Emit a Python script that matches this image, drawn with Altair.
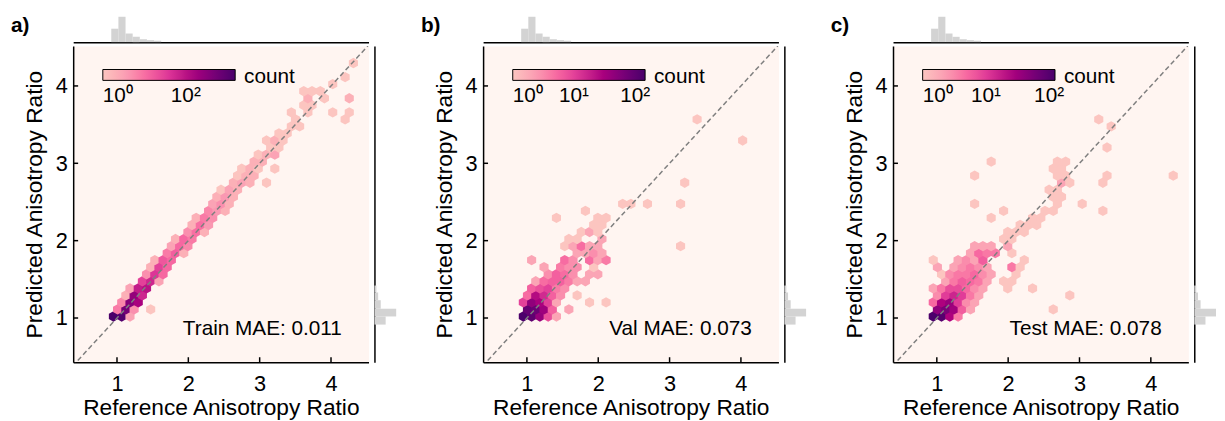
import altair as alt
import pandas as pd

FONT = "Liberation Sans"
HEX = "M0,-1L0.88,-0.5L0.88,0.5L0,1L-0.88,0.5L-0.88,-0.5Z"
CMAP = ["#fcc5c0", "#fa9fb5", "#f768a1", "#dd3497", "#ae017e", "#7a0177", "#49006a"]
BG = "#fff5f1"
GRAY = "#d3d3d3"

# hexbin grid (origin, column spacing, row spacing) in data units
GRID_X0, GRID_Y0, GRID_SX, GRID_DY = 0.95, 1.02, 0.116, 0.091
X_DOMAIN = [0.386, 4.526]
Y_DOMAIN = [0.429, 4.515]
TICKS = [1, 2, 3, 4]
DIAG = [0.3, 4.6]

panel_letters = ["a)", "b)", "c)"]
mae_labels = ["Train MAE: 0.011", "Val MAE: 0.073", "Test MAE: 0.078"]
count_max = [1550, 145, 124]
legend_ticks = [[1, 100], [1, 10, 100], [1, 10, 100]]

# hex cells: (row, col, count)
train_cells = [
    (0, 0, 1500), (0, 1, 1200), (0, 2, 3),
    (1, 0, 8), (1, 1, 500), (1, 2, 5), (1, 4, 1),
    (2, 1, 6), (2, 2, 350), (2, 3, 150),
    (3, 1, 2), (3, 2, 250), (3, 3, 60),
    (4, 2, 3), (4, 3, 80), (4, 4, 100),
    (5, 3, 30), (5, 4, 60), (5, 5, 3),
    (6, 4, 5), (6, 5, 40), (6, 6, 12),
    (7, 4, 2), (7, 5, 30), (7, 6, 12),
    (8, 5, 2), (8, 6, 18), (8, 7, 12),
    (9, 6, 8), (9, 7, 15), (9, 8, 2),
    (10, 7, 3), (10, 8, 12), (10, 9, 6),
    (11, 7, 2), (11, 8, 12), (11, 9, 8),
    (12, 9, 5), (12, 10, 10), (12, 11, 2),
    (13, 9, 2), (13, 10, 10), (13, 11, 4),
    (14, 10, 2), (14, 11, 8), (14, 12, 5),
    (15, 11, 6), (15, 12, 4), (15, 13, 2),
    (16, 12, 3), (16, 13, 5), (16, 14, 2),
    (17, 12, 2), (17, 13, 4), (17, 14, 2),
    (18, 13, 1), (18, 14, 3), (18, 15, 2),
    (19, 14, 2), (19, 15, 3), (19, 16, 2), (19, 18, 1),
    (20, 15, 1), (20, 16, 2), (20, 17, 2),
    (21, 15, 1), (21, 16, 2), (21, 17, 1), (21, 19, 1),
    (22, 17, 2), (22, 18, 2),
    (23, 17, 1), (23, 18, 2), (23, 19, 3),
    (24, 19, 1), (24, 20, 1),
    (25, 18, 1), (25, 19, 2), (25, 20, 1),
    (26, 20, 1), (26, 21, 1),
    (27, 21, 1), (27, 22, 1),
    (28, 22, 1), (28, 28, 1),
    (29, 21, 1), (29, 23, 1), (29, 26, 1), (29, 28, 1),
    (30, 23, 1), (30, 24, 1),
    (31, 23, 2), (31, 25, 1), (31, 28, 2),
    (32, 23, 1), (32, 24, 1), (32, 25, 1),
    (33, 26, 1), (34, 28, 1), (36, 29, 1),
]

val_cells = [
    (0, 0, 140), (0, 1, 100), (0, 2, 40), (0, 3, 8), (0, 4, 2),
    (1, 0, 90), (1, 1, 80), (1, 2, 35), (1, 3, 6), (1, 5, 2),
    (2, 0, 10), (2, 1, 45), (2, 2, 30), (2, 3, 10), (2, 4, 2), (2, 8, 1), (2, 10, 1),
    (3, 0, 5), (3, 1, 25), (3, 2, 15), (3, 3, 6), (3, 4, 3), (3, 6, 1),
    (4, 1, 6), (4, 2, 8), (4, 3, 10), (4, 4, 4), (4, 5, 3),
    (5, 1, 2), (5, 2, 5), (5, 3, 6), (5, 4, 6), (5, 5, 4), (5, 6, 2), (5, 7, 2),
    (6, 3, 3), (6, 4, 6), (6, 5, 5), (6, 6, 3), (6, 8, 2), (6, 9, 2),
    (7, 2, 2), (7, 4, 4), (7, 5, 3), (7, 6, 3), (7, 8, 1),
    (8, 1, 2), (8, 5, 5), (8, 6, 3), (8, 8, 5), (8, 9, 2), (8, 10, 4),
    (9, 6, 2), (9, 7, 2), (9, 8, 3), (9, 9, 2),
    (10, 5, 1), (10, 6, 2), (10, 7, 5), (10, 8, 2), (10, 9, 2), (10, 19, 1),
    (11, 5, 1), (11, 6, 1), (11, 9, 2),
    (12, 7, 1), (12, 8, 2), (12, 9, 1),
    (13, 8, 1), (13, 9, 1),
    (14, 4, 1), (14, 9, 1), (14, 10, 1),
    (15, 7, 1),
    (16, 12, 1), (16, 13, 1), (16, 15, 1), (16, 19, 1),
    (19, 19, 1), (25, 26, 1), (28, 21, 1),
]

test_cells = [
    (0, 0, 120), (0, 1, 100), (0, 2, 25), (0, 3, 4),
    (1, 0, 40), (1, 1, 55), (1, 2, 30), (1, 3, 6), (1, 4, 2), (1, 14, 1),
    (2, 0, 5), (2, 1, 25), (2, 2, 35), (2, 3, 10), (2, 4, 3), (2, 5, 2),
    (3, 0, 3), (3, 1, 10), (3, 2, 15), (3, 3, 10), (3, 4, 4), (3, 5, 2), (3, 16, 1),
    (4, 0, 2), (4, 1, 4), (4, 2, 8), (4, 3, 8), (4, 4, 5), (4, 5, 3), (4, 6, 2), (4, 9, 1), (4, 12, 1),
    (5, 1, 2), (5, 2, 4), (5, 3, 6), (5, 4, 5), (5, 5, 4), (5, 6, 2), (5, 8, 1), (5, 9, 1),
    (6, 1, 1), (6, 2, 3), (6, 3, 4), (6, 4, 4), (6, 5, 5), (6, 6, 3), (6, 7, 2), (6, 10, 1),
    (7, 0, 2), (7, 2, 2), (7, 3, 3), (7, 4, 4), (7, 5, 3), (7, 6, 2), (7, 9, 4), (7, 10, 1),
    (8, 0, 1), (8, 3, 2), (8, 4, 3), (8, 5, 2), (8, 6, 6), (8, 11, 1),
    (9, 4, 2), (9, 5, 5), (9, 6, 4), (9, 7, 4), (9, 9, 1),
    (10, 5, 2), (10, 6, 2), (10, 7, 2), (10, 9, 2),
    (11, 8, 1), (11, 9, 1),
    (12, 9, 1), (12, 10, 1), (12, 11, 1),
    (13, 10, 1), (13, 11, 1), (13, 12, 1),
    (14, 7, 1), (14, 12, 1), (14, 13, 1),
    (15, 8, 1), (15, 13, 1), (15, 14, 1), (15, 20, 1),
    (16, 5, 1), (16, 15, 1), (16, 18, 1),
    (17, 14, 1), (17, 15, 1),
    (18, 14, 1), (18, 15, 1),
    (19, 15, 2), (19, 16, 1), (19, 20, 1),
    (20, 5, 1), (20, 15, 1), (20, 16, 1), (20, 21, 1), (20, 29, 1),
    (21, 14, 1), (21, 15, 1),
    (22, 7, 1), (22, 15, 1), (22, 16, 1),
    (24, 21, 1), (27, 21, 1), (28, 20, 1),
]

# marginal histograms
top_lo = [0.92, 1.02, 1.12, 1.22, 1.32, 1.42, 1.52]
top_hi = [1.02, 1.12, 1.22, 1.32, 1.42, 1.52, 1.62]
top_cnt = [530, 1000, 340, 210, 115, 80, 55]
right_lo = [0.915, 1.02, 1.12, 1.23, 1.33]
right_hi = [1.02, 1.12, 1.23, 1.33, 1.42]
right_cnt = [515, 1000, 290, 170, 90]

W, H = 299, 320

SUP = "datum.value == 1 ? '10\u2070' : datum.value == 10 ? '10\u00b9' : '10\u00b2'"


def make_panel(cells, cmax, lvals, mae, letter):
    df = pd.DataFrame(cells, columns=["row", "col", "count"])
    df["hx"] = GRID_X0 + GRID_SX * (df["col"] + 0.5 * (df["row"] % 2))
    df["hy"] = GRID_Y0 + GRID_DY * df["row"]
    xs = alt.Scale(domain=X_DOMAIN, nice=False, zero=False)
    ys = alt.Scale(domain=Y_DOMAIN, nice=False, zero=False)
    ax = dict(grid=False, ticks=False, domainColor="black", domainWidth=1.5,
              labelColor="black", labelFont=FONT, labelFontSize=22,
              titleFont=FONT, titleFontSize=23, titleFontWeight="normal",
              titleColor="black", format="d", values=TICKS)
    hexes = alt.Chart(df).mark_point(shape=HEX, filled=True, size=110, opacity=1,
                                     strokeWidth=0).encode(
        x=alt.X("hx:Q", scale=xs, axis=alt.Axis(title="Reference Anisotropy Ratio",
                                                 orient="bottom", labelPadding=12,
                                                 titlePadding=2, **ax)),
        y=alt.Y("hy:Q", scale=ys, axis=alt.Axis(title="Predicted Anisotropy Ratio",
                                                 orient="left", labelPadding=6,
                                                 titlePadding=9, **ax)),
        color=alt.Color("count:Q",
                        scale=alt.Scale(type="log", domain=[1, cmax], range=CMAP),
                        legend=alt.Legend(orient="none", legendX=30, legendY=23.7,
                                          direction="horizontal", gradientLength=134,
                                          gradientThickness=11,
                                          gradientStrokeColor="black",
                                          gradientStrokeWidth=1, values=lvals,
                                          labelExpr=SUP, labelFont=FONT,
                                          labelFontSize=21, labelColor="black",
                                          labelAlign="center", labelOffset=5,
                                          title=None, padding=0)),
    )
    diag = alt.Chart(pd.DataFrame({"d": DIAG})).mark_line(
        color="#7f7f7f", strokeDash=[5, 3], strokeWidth=1.5, clip=True).encode(
        x=alt.X("d:Q", scale=xs, axis=None), y=alt.Y("d:Q", scale=ys, axis=None))
    tdf = pd.DataFrame({"t": TICKS})
    xt = alt.Chart(tdf).mark_rule(color="black", strokeWidth=1.5).encode(
        x=alt.X("t:Q", scale=xs, axis=None), y=alt.value(H), y2=alt.value(H - 5))
    yt = alt.Chart(tdf).mark_rule(color="black", strokeWidth=1.5).encode(
        y=alt.Y("t:Q", scale=ys, axis=None), x=alt.value(0), x2=alt.value(5))
    top = alt.Chart(pd.DataFrame({"lo": top_lo, "hi": top_hi, "cnt": top_cnt})).mark_bar(
        color=GRAY).encode(
        x=alt.X("lo:Q", scale=xs, axis=alt.Axis(orient="top", offset=4, labels=False,
                                                 ticks=False, grid=False, title=None,
                                                 domainColor="black", domainWidth=1.5)),
        x2="hi:Q",
        y=alt.Y("cnt:Q", scale=alt.Scale(domain=[0, 1000], range=[-4, -29.7]), axis=None),
        y2=alt.datum(0))
    right = alt.Chart(pd.DataFrame({"lo": right_lo, "hi": right_hi, "cnt": right_cnt})).mark_bar(
        color=GRAY).encode(
        y=alt.Y("lo:Q", scale=ys, axis=alt.Axis(orient="right", offset=6, labels=False,
                                                 ticks=False, grid=False, title=None,
                                                 domainColor="black", domainWidth=1.5)),
        y2="hi:Q",
        x=alt.X("cnt:Q", scale=alt.Scale(domain=[0, 1000], range=[W + 6, W + 28]), axis=None),
        x2=alt.datum(0))
    mae_t = alt.Chart(pd.DataFrame({"t": [mae]})).mark_text(
        align="right", baseline="alphabetic", font=FONT, fontSize=21, color="black").encode(
        x=alt.value(272), y=alt.value(292), text="t:N")
    count_t = alt.Chart(pd.DataFrame({"t": ["count"]})).mark_text(
        align="left", baseline="alphabetic", font=FONT, fontSize=21, color="black").encode(
        x=alt.value(173), y=alt.value(37), text="t:N")
    letter_t = alt.Chart(pd.DataFrame({"t": [letter]})).mark_text(
        align="left", baseline="alphabetic", font=FONT, fontSize=21, fontWeight="bold",
        color="black").encode(x=alt.value(-63), y=alt.value(-14), text="t:N")
    return alt.layer(hexes, diag, xt, yt, top, right, mae_t, count_t, letter_t).resolve_scale(
        x="independent", y="independent").properties(width=W, height=H)


panels = [
    make_panel(c, m, lv, t, l)
    for c, m, lv, t, l in zip([train_cells, val_cells, test_cells], count_max,
                              legend_ticks, mae_labels, panel_letters)
]

chart = alt.hconcat(*panels, spacing=116, bounds="flush").resolve_scale(
    color="independent").properties(
    padding={"left": 2, "top": 4, "right": 0, "bottom": 0}).configure(
    font=FONT).configure_view(fill=BG, stroke="transparent")

chart.save("out.html", embed_options={"renderer": "svg", "actions": False})
